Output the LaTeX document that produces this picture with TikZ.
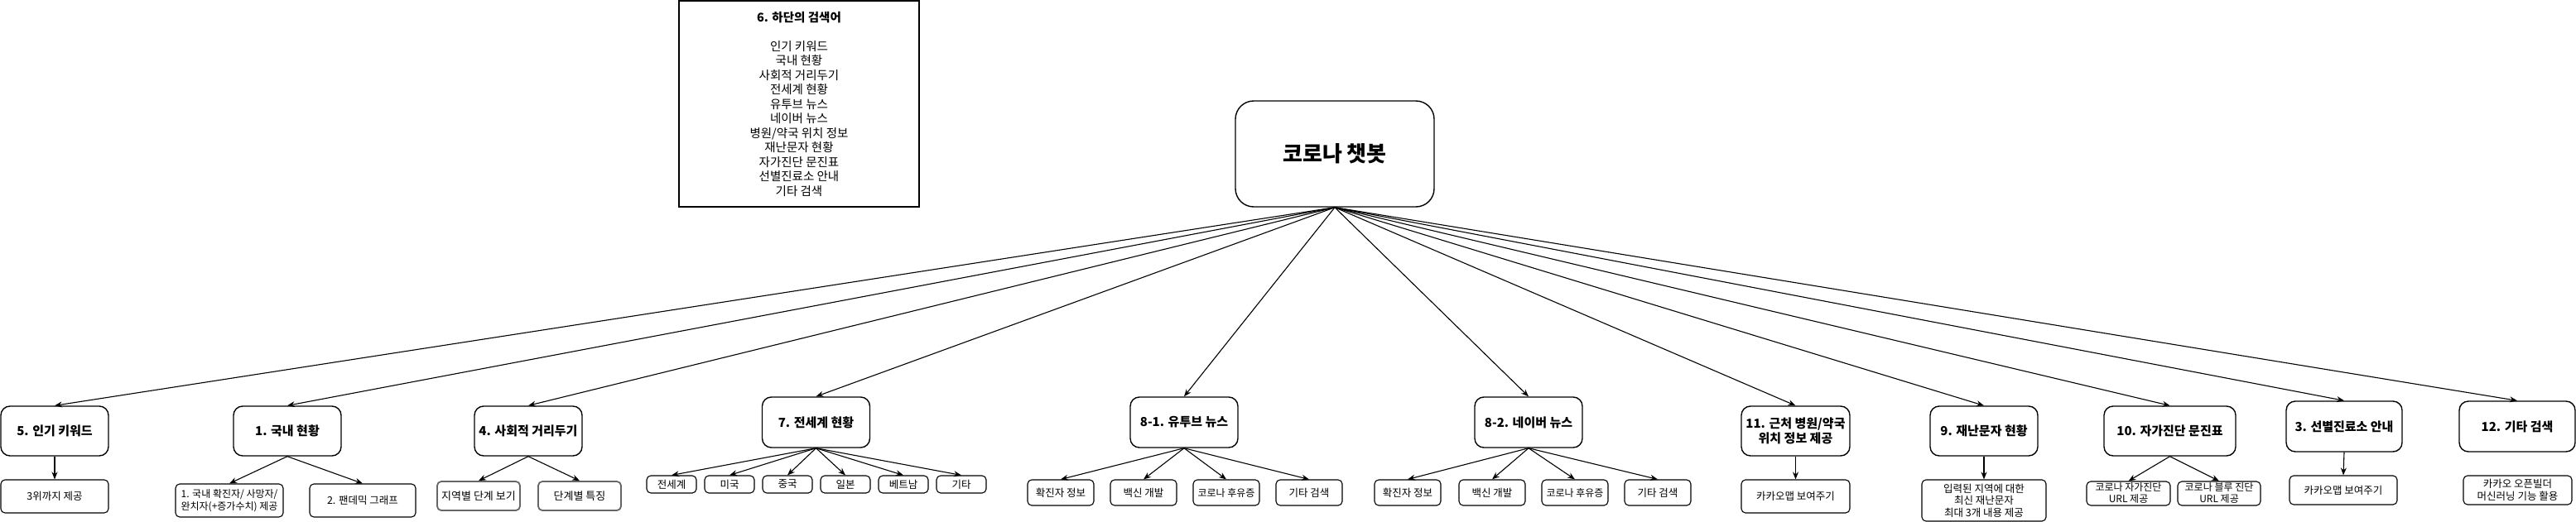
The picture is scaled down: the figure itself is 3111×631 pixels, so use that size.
\documentclass[tikz,border=0pt]{standalone}
\usepackage{fontspec}
\setmainfont{Noto Sans CJK KR}
\usetikzlibrary{arrows.meta}

\begin{document}
\begin{tikzpicture}[x=1pt,y=-1pt,root/.style={draw,line width=1.4pt,rounded corners=22pt,minimum width=240pt,minimum height=128pt,inner sep=0pt,font=\fontsize{26}{30}\selectfont\bfseries}, topic/.style={draw,line width=1.4pt,rounded corners=11pt,minimum width=130pt,minimum height=60pt,inner sep=0pt,align=center,font=\fontsize{15}{18}\selectfont\bfseries}, leaf/.style={draw,line width=1.1pt,rounded corners=5pt,inner sep=0pt,align=center,font=\fontsize{12.5}{14.5}\selectfont}, greyleaf/.style={leaf,draw=black!60,line width=1.8pt}, listbox/.style={draw,line width=1.2pt,minimum width=290pt,minimum height=249pt,inner sep=0pt,align=center,font=\fontsize{14.5}{17.5}\selectfont}, edge/.style={line width=1.1pt,-{Stealth[length=9pt,width=7pt]}}]
\useasboundingbox (0,0) rectangle (3111,631);

\node(terms)[listbox] at (965,125.5){{\bfseries 6. 하단의 검색어}\\[17.5pt]인기 키워드\\국내 현황\\사회적 거리두기\\전세계 현황\\유투브 뉴스\\네이버 뉴스\\병원/약국 위치 정보\\재난문자 현황\\자가진단 문진표\\선별진료소 안내\\기타 검색};
\node(bot)[root] at (1612,186){코로나 챗봇};

\node(k5)[topic] at (66,521){5. 인기 키워드};
\node(k1)[topic] at (347,521){1. 국내 현황};
\node(k4)[topic] at (638,521){4. 사회적 거리두기};
\node(k7)[topic,minimum height=61pt] at (985.5,510.5){7. 전세계 현황};
\node(k81)[topic,minimum height=61pt] at (1430,510.5){8-1. 유투브 뉴스};
\node(k82)[topic,minimum height=61pt] at (1846,510.5){8-2. 네이버 뉴스};
\node(k11)[topic,minimum width=131pt] at (2168.5,521){11. 근처 병원/약국\\위치 정보 제공};
\node(k9)[topic] at (2396,521){9. 재난문자 현황};
\node(k10)[topic,minimum width=159pt] at (2620.5,521){10. 자가진단 문진표};
\node(k3)[topic,minimum width=140pt,minimum height=61pt] at (2831,515.5){3. 선별진료소 안내};
\node(k12)[topic,minimum width=140pt,minimum height=61pt] at (3040,515.5){12. 기타 검색};

\node(c5)[leaf,minimum width=130pt,minimum height=40pt] at (66,600){3위까지 제공};
\node(c1a)[leaf,minimum width=130pt,minimum height=40pt,font=\fontsize{12}{15}\selectfont] at (277,605){1. 국내 확진자/ 사망자/\\완치자(+증가수치) 제공};
\node(c1b)[leaf,minimum width=128pt,minimum height=40pt] at (438,605){2. 팬데믹 그래프};
\node(c4a)[greyleaf,minimum width=100pt,minimum height=35pt,font=\fontsize{13}{15}\selectfont] at (578,599.5){지역별 단계 보기};
\node(c4b)[greyleaf,minimum width=100pt,minimum height=35pt,font=\fontsize{13}{15}\selectfont] at (700,599.5){단계별 특징};
\node(w1)[leaf,minimum width=60pt,minimum height=21pt] at (811,585.5){전세계};
\node(w2)[leaf,minimum width=60pt,minimum height=21pt] at (881,585.5){미국};
\node(w3)[leaf,minimum width=60pt,minimum height=21pt] at (951,585.5){중국};
\node(w4)[leaf,minimum width=60pt,minimum height=21pt] at (1021,585.5){일본};
\node(w5)[leaf,minimum width=60pt,minimum height=21pt] at (1091,585.5){베트남};
\node(w6)[leaf,minimum width=60pt,minimum height=21pt] at (1161,585.5){기타};
\node(y1)[leaf,minimum width=80pt,minimum height=31pt] at (1281,595.5){확진자 정보};
\node(y2)[leaf,minimum width=80pt,minimum height=31pt] at (1381,595.5){백신 개발};
\node(y3)[leaf,minimum width=80pt,minimum height=31pt,font=\fontsize{12}{14.5}\selectfont] at (1481,595.5){코로나 후유증};
\node(y4)[leaf,minimum width=80pt,minimum height=31pt] at (1581,595.5){기타 검색};
\node(n1)[leaf,minimum width=80pt,minimum height=31pt] at (1700,595.5){확진자 정보};
\node(n2)[leaf,minimum width=80pt,minimum height=31pt] at (1802,595.5){백신 개발};
\node(n3)[leaf,minimum width=80pt,minimum height=31pt,font=\fontsize{12}{14.5}\selectfont] at (1902,595.5){코로나 후유증};
\node(n4)[leaf,minimum width=80pt,minimum height=31pt] at (2002,595.5){기타 검색};
\node(c11)[leaf,minimum width=131pt,minimum height=40pt] at (2168.5,600){카카오맵 보여주기};
\node(c9)[leaf,minimum width=150pt,minimum height=50pt] at (2396,605){입력된 지역에 대한\\최신 재난문자\\최대 3개 내용 제공};
\node(c10a)[leaf,minimum width=101pt,minimum height=29pt,font=\fontsize{12}{14}\selectfont] at (2570.5,596.5){코로나 자가진단\\URL 제공};
\node(c10b)[leaf,minimum width=100pt,minimum height=29pt,font=\fontsize{12}{14}\selectfont] at (2680,596.5){코로나 블루 진단\\URL 제공};
\node(c3)[leaf,minimum width=130pt,minimum height=35pt] at (2830,592.5){카카오맵 보여주기};
\node(c12)[leaf,minimum width=131pt,minimum height=35pt] at (3040.5,592.5){카카오 오픈빌더\\머신러닝 기능 활용};

\draw [edge] (bot.south) to (k5.north);
\draw [edge] (bot.south) to (k1.north);
\draw [edge] (bot.south) to (k4.north);
\draw [edge] (bot.south) to (k7.north);
\draw [edge] (bot.south) to (k81.north);
\draw [edge] (bot.south) to (k82.north);
\draw [edge] (bot.south) to (k11.north);
\draw [edge] (bot.south) to (k9.north);
\draw [edge] (bot.south) to (k10.north);
\draw [edge] (bot.south) to (k3.north);
\draw [edge] (bot.south) to (k12.north);

\draw [edge] (k5.south) to (c5.north);
\draw [edge] (k1.south) to (c1a.north);
\draw [edge] (k1.south) to (c1b.north);
\draw [edge] (k4.south) to (c4a.north);
\draw [edge] (k4.south) to (c4b.north);
\draw [edge] (k7.south) to (w1.north);
\draw [edge] (k7.south) to (w2.north);
\draw [edge] (k7.south) to (w3.north);
\draw [edge] (k7.south) to (w4.north);
\draw [edge] (k7.south) to (w5.north);
\draw [edge] (k7.south) to (w6.north);
\draw [edge] (k81.south) to (y1.north);
\draw [edge] (k81.south) to (y2.north);
\draw [edge] (k81.south) to (y3.north);
\draw [edge] (k81.south) to (y4.north);
\draw [edge] (k82.south) to (n1.north);
\draw [edge] (k82.south) to (n2.north);
\draw [edge] (k82.south) to (n3.north);
\draw [edge] (k82.south) to (n4.north);
\draw [edge] (k11.south) to (c11.north);
\draw [edge] (k9.south) to (c9.north);
\draw [edge] (k10.south) to (c10a.north);
\draw [edge] (k10.south) to (c10b.north);
\draw [edge] (k3.south) to (c3.north);
\end{tikzpicture}
\end{document}
